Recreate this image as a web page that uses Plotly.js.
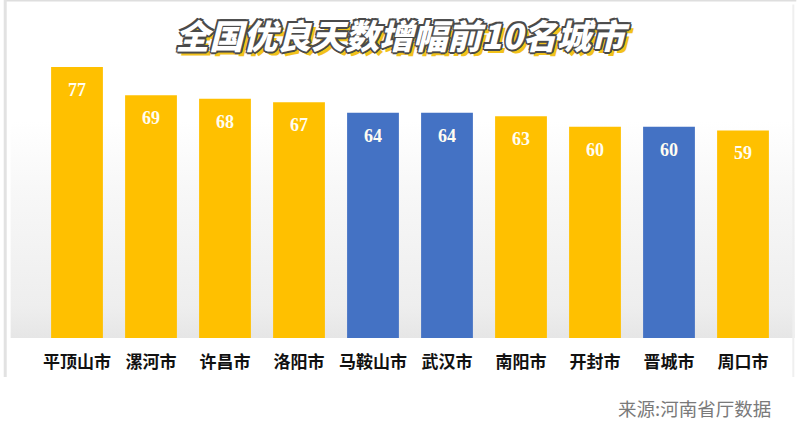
<!DOCTYPE html>
<html>
<head>
<meta charset="utf-8">
<script src="https://cdn.plot.ly/plotly-3.0.1.min.js"></script>
<style>html,body{margin:0;padding:0;background:#fff;}#chart{width:800px;height:434px;}</style>
</head>
<body>
<div id="chart"></div>
<script>
const cities = ["平顶山市","漯河市","许昌市","洛阳市","马鞍山市","武汉市","南阳市","开封市","晋城市","周口市"];
const days = [77, 69, 68, 67, 64, 64, 63, 60, 60, 59];
const province = ["河南","河南","河南","河南","外省","外省","河南","河南","外省","河南"];
const titleText = "全国优良天数增幅前10名城市";
const sourceText = "来源:河南省厅数据";

const palette = {"河南": "#FFC000", "外省": "#4472C4"};

const trace = {
  type: "bar",
  x: cities,
  y: days,
  width: 0.7,
  marker: {color: province.map(p => palette[p]), line: {width: 0}},
  hoverinfo: "skip"
};

const valueLabels = cities.map((c, i) => ({
  x: c, y: days[i], xref: "x", yref: "y",
  text: String(days[i]), showarrow: false,
  yanchor: "middle", yshift: -23,
  font: {family: "Liberation Serif, DejaVu Serif, serif", size: 18, color: "#fffdf2", weight: "bold"}
}));

const bgSvg = 'data:image/svg+xml;utf8,' + encodeURIComponent(
  '<svg xmlns="http://www.w3.org/2000/svg" width="100" height="100" preserveAspectRatio="none">' +
  '<defs><linearGradient id="g" x1="0" y1="0" x2="0" y2="1">' +
  '<stop offset="0" stop-color="#ffffff"/>' +
  '<stop offset="0.35" stop-color="#f7f7f7"/>' +
  '<stop offset="0.85" stop-color="#eeeeee"/>' +
  '<stop offset="1" stop-color="#e6e6e6"/>' +
  '</linearGradient></defs><rect width="100" height="100" fill="url(#g)"/></svg>');

const layout = {
  width: 800, height: 434,
  margin: {l: 40, r: 20, t: 60, b: 96},
  paper_bgcolor: "#ffffff",
  plot_bgcolor: "rgba(0,0,0,0)",
  showlegend: false,
  bargap: 0.3,
  title: {
    text: titleText,
    x: 0.5, xanchor: "center",
    y: 0.915, yanchor: "middle",
    font: {
      family: "Noto Sans CJK SC, sans-serif", size: 34, color: "#ffffff", weight: 900, style: "italic",
      shadow: "-1.5px -1.5px 0 #4a4a4a, 1.5px -1.5px 0 #4a4a4a, -1.5px 1.5px 0 #4a4a4a, 1.5px 1.5px 0 #4a4a4a, 0 2px 0 #4a4a4a, 2px 0 0 #4a4a4a, 4px 4px 0 #f2c21b"
    }
  },
  xaxis: {
    type: "category",
    showgrid: false, zeroline: false, showline: false,
    ticks: "", ticklen: 0, ticklabelstandoff: 12,
    tickfont: {family: "Noto Sans CJK SC, sans-serif", size: 17, color: "#111111", weight: "bold"},
    fixedrange: true
  },
  yaxis: {
    range: [0, 79],
    visible: false,
    showgrid: false, zeroline: false,
    fixedrange: true
  },
  images: [
    {source: bgSvg, xref: "paper", yref: "paper", x: -0.04, y: 0.78, sizex: 1.06, sizey: 0.78,
     xanchor: "left", yanchor: "top", sizing: "stretch", layer: "below"}
  ],
  shapes: [
    {type: "line", xref: "paper", yref: "paper", x0: -0.047, x1: 1.022, y0: 1.216, y1: 1.216,
     line: {color: "#dedede", width: 3}, layer: "below"},
    {type: "line", xref: "paper", yref: "paper", x0: -0.047, x1: -0.047, y0: -0.14, y1: 1.216,
     line: {color: "#e2e2e2", width: 3}, layer: "below"},
    {type: "line", xref: "paper", yref: "paper", x0: 1.018, x1: 1.018, y0: -0.14, y1: 1.2,
     line: {color: "#efefef", width: 2}, layer: "below"}
  ],
  annotations: valueLabels.concat([
    {text: sourceText, xref: "paper", yref: "paper", x: 0.99, y: -0.252, xanchor: "right", yanchor: "middle",
     showarrow: false, font: {family: "Noto Sans CJK SC, sans-serif", size: 18.5, color: "#7a7a7a"}}
  ])
};

Plotly.newPlot("chart", [trace], layout, {displayModeBar: false, staticPlot: true});
</script>
</body>
</html>
